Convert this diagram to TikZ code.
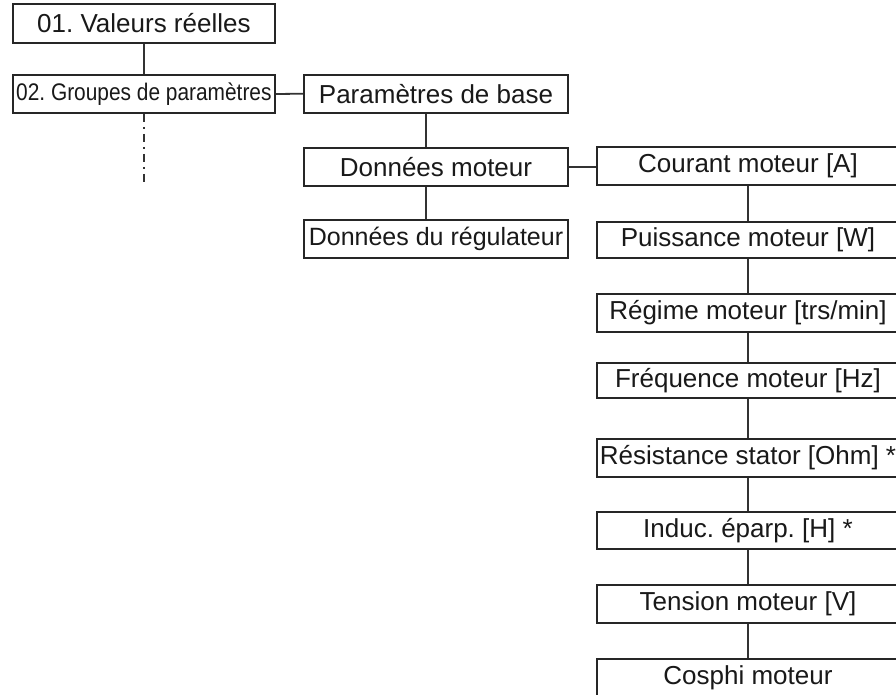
\documentclass[tikz,border=0pt]{standalone}
\usepackage{fontspec}
\setmainfont{Liberation Sans}
\frenchspacing
\begin{document}
\begin{tikzpicture}[x=1pt,y=-1pt]
\tikzset{
  box/.style={draw=black!85, line width=1.8pt, rectangle, inner sep=0pt,
    font=\fontsize{26}{30}\selectfont, text=black!90},
  lbox/.style={box, minimum width=262pt},
  mbox/.style={box, minimum width=264pt, minimum height=38pt},
  rbox/.style={box, minimum width=302pt},
  conn/.style={draw=black!80, line width=1.8pt},
  dashdot/.style={conn, line width=1.8pt, dash pattern=on 8pt off 5pt on 2pt off 5pt}
}
\useasboundingbox (0,0) rectangle (896,694);
\fill[white] (0,0) rectangle (896,694);
\clip (0,0) rectangle (896,694);

% left column
\node[lbox, minimum height=39pt] (v) at (143.9,23.5) {01. Valeurs réelles};
\node[lbox, minimum height=38pt, font=\fontsize{24}{28}\selectfont] (g) at (143.9,94) {\scalebox{0.87}[1]{02. Groupes de paramètres}};
\coordinate (gend) at (143.9,186);

% middle column
\node[mbox] (pb) at (436,93.7) {Paramètres de base};
\node[mbox] (dm) at (436,166.8) {Données moteur};
\node[mbox, font=\fontsize{25}{30}\selectfont] (dr) at (436,239) {Données du régulateur};

% right column
\node[rbox, minimum height=37.7pt] (r1) at (748,166.2) {Courant moteur [A]};
\node[rbox, minimum height=36.6pt] (r2) at (748,240) {Puissance moteur [W]};
\node[rbox, minimum height=37.7pt] (r3) at (748,312.8) {Régime moteur [trs/min]};
\node[rbox, minimum height=35.6pt] (r4) at (748,380.5) {Fréquence moteur [Hz]};
\node[rbox, minimum height=37.4pt] (r5) at (748,458) {Résistance stator [Ohm] *};
\node[rbox, minimum height=37.6pt] (r6) at (748,530.5) {Induc. éparp. [H] *};
\node[rbox, minimum height=37.7pt] (r7) at (748,603.8) {Tension moteur [V]};
\node[rbox, minimum height=37.7pt] (r8) at (748,678.2) {Cosphi moteur};

% connectors
\draw[conn] (v.south) -- (g.north);
\draw[dashdot] (g.south) -- (gend);
\draw[conn] (g.east) -- (pb.west);
\draw[conn] ([xshift=-10pt]pb.south) -- ([xshift=-10pt]dm.north);
\draw[conn] ([xshift=-10pt]dm.south) -- ([xshift=-10pt]dr.north);
\draw[conn] (dm.east) -- (r1.west |- dm.east);
\draw[conn] (r1.south) -- (r2.north);
\draw[conn] (r2.south) -- (r3.north);
\draw[conn] (r3.south) -- (r4.north);
\draw[conn] (r4.south) -- (r5.north);
\draw[conn] (r5.south) -- (r6.north);
\draw[conn] (r6.south) -- (r7.north);
\draw[conn] (r7.south) -- (r8.north);
\end{tikzpicture}
\end{document}
